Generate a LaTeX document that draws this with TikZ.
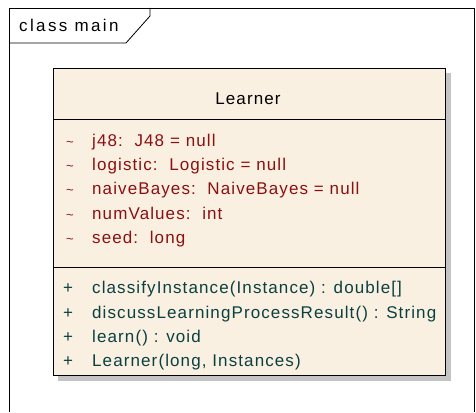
\documentclass[tikz,border=0pt]{standalone}
\usepackage{fontspec}
\setmainfont{Liberation Sans}[LetterSpace=6.5]
\newfontfamily\framefont{Liberation Sans}[LetterSpace=14]
\begin{document}
\begin{tikzpicture}[x=1pt,y=-1pt,
  framestyle/.style={draw=black,line width=0.8pt},
  boxstyle/.style={draw=black,line width=1pt,fill=classfill},
  umlfont/.style={font=\fontsize{17}{20}\selectfont},
  attr/.style={umlfont,anchor=base west,text=attrred,inner sep=0pt},
  meth/.style={umlfont,anchor=base west,text=methteal,inner sep=0pt},
  vis/.style={umlfont,anchor=base west,inner sep=0pt}]
\definecolor{classfill}{HTML}{FAF0E2}
\definecolor{attrred}{HTML}{8B1010}
\definecolor{methteal}{HTML}{0A4040}
\definecolor{shadowgray}{HTML}{C4C4C4}
\useasboundingbox (0,0) rectangle (476,412);
\fill[white] (0,0) rectangle (476,412);
% diagram frame and its name tab
\draw[framestyle] (9,412) -- (9,8) -- (474,8) -- (474,412);
\draw[framestyle] (9,43) -- (126,43) -- (150,16) -- (150,8);
\node[font=\framefont\fontsize{17}{20}\selectfont,anchor=base west,inner sep=0pt] (title) at (19,32) {class main};
% class box with drop shadow
\fill[shadowgray] (58,73) rectangle (451,381);
\draw[boxstyle] (53,68) rectangle (445,375);
\draw[line width=1pt] (53,119) -- (445,119);
\draw[line width=1pt] (53,267) -- (445,267);
\node[umlfont,anchor=base,inner sep=0pt] (name) at (248,104) {Learner};
% attributes (package visibility)
\foreach \y/\t [count=\i] in {146/{j48:\ \ J48 = null},
  170/{logistic:\ \ Logistic = null},
  194/{naiveBayes:\ \ NaiveBayes = null},
  219/{numValues:\ \ int},
  243/{seed:\ \ long}} {
  \node[anchor=base west,inner sep=0pt,text=attrred,font=\fontsize{13}{16}\selectfont] (av\i) at (66,\y) {\textasciitilde};
  \node[attr] (a\i) at (92,\y) {\t};
}
% operations (public visibility)
\foreach \y/\t [count=\i] in {293/{classifyInstance(Instance) : double[]},
  318/{discussLearningProcessResult() : String},
  342/{learn() : void},
  366/{Learner(long, Instances)}} {
  \node[vis,text=methteal] (mv\i) at (63,\y) {+};
  \node[meth] (m\i) at (92,\y) {\t};
}
\end{tikzpicture}
\end{document}
